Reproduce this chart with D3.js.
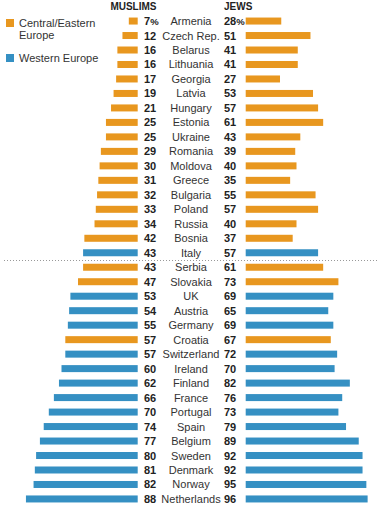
<!DOCTYPE html>
<html><head><meta charset="utf-8">
<script src="https://cdn.jsdelivr.net/npm/d3@7"></script>
<style>body{margin:0;background:#fff}svg{display:block}</style>
</head><body>
<script>
const countries = ["Armenia","Czech Rep.","Belarus","Lithuania","Georgia","Latvia","Hungary","Estonia","Ukraine","Romania","Moldova","Greece","Bulgaria","Poland","Russia","Bosnia","Italy","Serbia","Slovakia","UK","Austria","Germany","Croatia","Switzerland","Ireland","Finland","France","Portugal","Spain","Belgium","Sweden","Denmark","Norway","Netherlands"];
const muslims = [7,12,16,16,17,19,21,25,25,29,30,31,32,33,34,42,43,43,47,53,54,55,57,57,60,62,66,70,74,77,80,81,82,88];
const jews = [28,51,41,41,27,53,57,61,43,39,40,35,55,57,40,37,57,61,73,69,65,69,67,72,70,82,76,73,79,89,92,92,95,96];
const regions = ["CE","CE","CE","CE","CE","CE","CE","CE","CE","CE","CE","CE","CE","CE","CE","CE","W","CE","CE","W","W","W","CE","W","W","W","W","W","W","W","W","W","W","W"];
const legendLabels = [["Central/Eastern","Europe"],["Western Europe"]];

const W = 388, H = 513;
const colors = {CE:"#E8971F", W:"#3590C3"};
const svg = d3.select("body").append("svg").attr("width",W).attr("height",H);

const y = d3.scaleBand().domain(countries).range([13.8, 506.2]).paddingInner(0);
const xL = d3.scaleLinear().domain([0,100]).range([137.7, 137.7-127]);
const xR = d3.scaleLinear().domain([0,100]).range([245.7, 245.7+127]);
const bh = 7;
const cy = d => y(d) + y.bandwidth()/2;

const rows = svg.append("g").selectAll("g").data(countries).join("g");
rows.append("rect").attr("x",(d,i)=>xL(muslims[i])).attr("width",(d,i)=>xL(0)-xL(muslims[i]))
  .attr("y",d=>cy(d)-bh/2).attr("height",bh).attr("fill",(d,i)=>colors[regions[i]]);
rows.append("rect").attr("x",xR(0)).attr("width",(d,i)=>xR(jews[i])-xR(0))
  .attr("y",d=>cy(d)-bh/2).attr("height",bh).attr("fill",(d,i)=>colors[regions[i]]);
const font = "'Liberation Sans', Arial, sans-serif";
function valText(sel, x, arr){
  const t = sel.append("text").attr("x",x).attr("y",d=>cy(d)+4).attr("font-family",font).attr("font-weight","bold")
    .attr("font-size",11).attr("fill","#222");
  t.append("tspan").text((d,i)=>arr[i]);
  t.filter((d,i)=>i===0).append("tspan").attr("font-size",9.5).text("%");
}
valText(rows,144,muslims);
valText(rows,224,jews);
rows.append("text").attr("x",191).attr("y",d=>cy(d)+4).attr("text-anchor","middle").attr("font-family",font)
  .attr("font-size",11).attr("fill","#333").text(d=>d);

svg.append("text").attr("x",156.5).attr("y",10).attr("text-anchor","end").attr("font-family",font)
  .attr("font-weight","bold").attr("font-size",10).attr("fill","#222").text("MUSLIMS");
svg.append("text").attr("x",224).attr("y",10).attr("font-family",font)
  .attr("font-weight","bold").attr("font-size",10).attr("fill","#222").text("JEWS");

// divider between Italy and Serbia
const divY = (cy("Italy")+cy("Serbia"))/2 + 0.5;
svg.append("line").attr("x1",4).attr("x2",378).attr("y1",divY).attr("y2",divY)
  .attr("stroke","#999").attr("stroke-width",1).attr("stroke-dasharray","1,2");

// legend
const lg = svg.append("g");
const legY = [19, 54];
["CE","W"].forEach((k,i)=>{
  lg.append("rect").attr("x",6).attr("y",legY[i]).attr("width",8).attr("height",8).attr("fill",colors[k]);
  legendLabels[i].forEach((t,j)=>{
    lg.append("text").attr("x",19).attr("y",legY[i]+8+j*11.5).attr("font-family",font)
      .attr("font-size",11).attr("fill","#333").text(t);
  });
});
</script>
</body></html>
